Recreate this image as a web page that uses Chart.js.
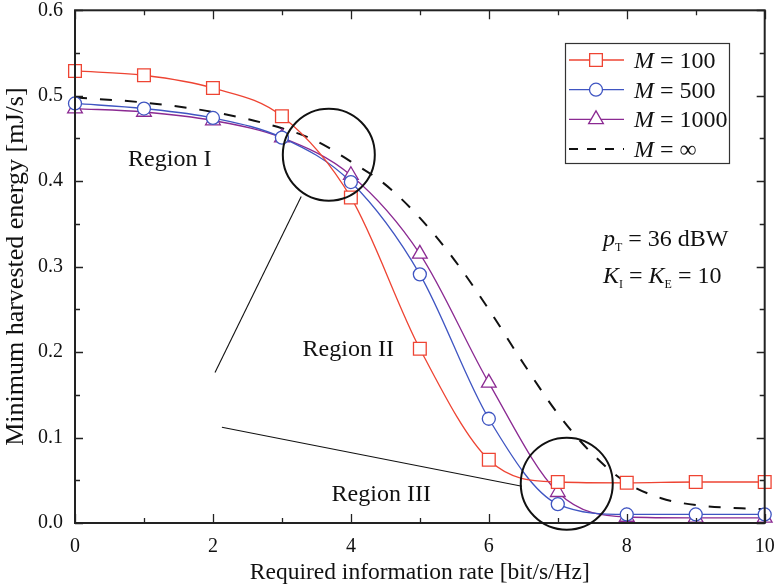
<!DOCTYPE html>
<html><head><meta charset="utf-8">
<script src="https://cdn.jsdelivr.net/npm/chart.js@4/dist/chart.umd.min.js"></script>
<style>html,body{margin:0;padding:0;background:#fff;}canvas{display:block;}</style>
</head><body>
<canvas id="c" width="775" height="587"></canvas>
<script>
// ---- data ----
const rates = [0,1,2,3,4,5,6,7,8,9,10];
const m100  = [0.529,0.524,0.509,0.476,0.381,0.204,0.074,0.048,0.047,0.048,0.048];
const m500  = [0.491,0.485,0.474,0.451,0.399,0.291,0.122,0.022,0.010,0.010,0.010];
const m1000 = [0.485,0.481,0.471,0.451,0.407,0.315,0.164,0.036,0.007,0.006,0.006];
const mInfRates = [0,1,2,3,3.5,4,4.5,5,5.5,6,6.5,7,7.5,8,8.5,9,10];
const mInf  = [0.498,0.492,0.481,0.462,0.447,0.423,0.396,0.357,0.308,0.250,0.187,0.128,0.081,0.047,0.029,0.021,0.016];
const xTicks = [0,2,4,6,8,10];
const yTicks = [0,0.1,0.2,0.3,0.4,0.5,0.6];
const seriesNames = ['100','500','1000','\u221E'];

const SERIF = '"Liberation Serif","Times New Roman",serif';
const RED = '#ee4433', BLUE = '#3f55c2', PURPLE = '#8b2a92';

const pts = (xs, ys) => xs.map((x,i)=>({x:x, y:ys[i]}));

const annotations = {
  circles: [ {x:3.68, y:0.431, r:46}, {x:7.13, y:0.046, r:46} ],
  lines: [ [[2.03,0.176],[3.28,0.382]], [[2.13,0.112],[6.48,0.043]] ],
  texts: [ ['Region I',0.77,0.418], ['Region II',3.3,0.196], ['Region III',3.72,0.026] ]
};

const decor = {
  id:'decor',
  afterDraw(chart){
    const ctx = chart.ctx, xs = chart.scales.x, ys = chart.scales.y, a = chart.chartArea;
    ctx.save();
    // frame
    ctx.strokeStyle = '#222'; ctx.lineWidth = 2;
    ctx.strokeRect(a.left, a.top, a.right-a.left, a.bottom-a.top);
    ctx.lineWidth = 1.3;
    ctx.beginPath();
    for (let v=0; v<=10; v++){
      const px = Math.round(xs.getPixelForValue(v))+0.5;
      const L = v%2===0 ? 9 : 5;
      ctx.moveTo(px, a.bottom); ctx.lineTo(px, a.bottom-L);
      ctx.moveTo(px, a.top); ctx.lineTo(px, a.top+L);
    }
    for (let k=0; k<=12; k++){
      const v = k*0.05;
      const py = Math.round(ys.getPixelForValue(v))+0.5;
      const L = k%2===0 ? 8 : 5;
      ctx.moveTo(a.left, py); ctx.lineTo(a.left+L, py);
      ctx.moveTo(a.right, py); ctx.lineTo(a.right-L, py);
    }
    ctx.stroke();
    // annotation circles and lines
    ctx.strokeStyle = '#111'; ctx.lineWidth = 2;
    annotations.circles.forEach(c=>{
      ctx.beginPath();
      ctx.arc(xs.getPixelForValue(c.x), ys.getPixelForValue(c.y), c.r, 0, Math.PI*2);
      ctx.stroke();
    });
    ctx.lineWidth = 1.1;
    annotations.lines.forEach(l=>{
      ctx.beginPath();
      ctx.moveTo(xs.getPixelForValue(l[0][0]), ys.getPixelForValue(l[0][1]));
      ctx.lineTo(xs.getPixelForValue(l[1][0]), ys.getPixelForValue(l[1][1]));
      ctx.stroke();
    });
    // texts
    ctx.fillStyle = '#111';
    ctx.textBaseline = 'alphabetic';
    ctx.font = '24px ' + SERIF;
    annotations.texts.forEach(t=>{
      ctx.fillText(t[0], xs.getPixelForValue(t[1]), ys.getPixelForValue(t[2]));
    });
    // parameter text
    const drawRuns = (runs, x, y) => {
      runs.forEach(r=>{
        ctx.font = r.f;
        ctx.fillText(r.t, x, y + (r.dy||0));
        x += ctx.measureText(r.t).width;
      });
    };
    const fN = '24px '+SERIF, fI = 'italic 24px '+SERIF, fS = '12px '+SERIF;
    drawRuns([{t:'p',f:fI},{t:'T',f:fS,dy:5},{t:' = 36 dBW',f:fN}], 603, 246);
    drawRuns([{t:'K',f:fI},{t:'I',f:fS,dy:5},{t:' = ',f:fN},{t:'K',f:fI},{t:'E',f:fS,dy:5},{t:' = 10',f:fN}], 603, 283);
    // legend
    const lx = 565, ly = 43, lw = 164, lh = 120;
    ctx.fillStyle = '#fff'; ctx.fillRect(lx, ly, lw, lh);
    ctx.strokeStyle = '#333'; ctx.lineWidth = 1.2; ctx.strokeRect(lx+0.5, ly+0.5, lw, lh);
    chart.data.datasets.forEach((ds, i)=>{
      const y = 60 + i*29.7;
      ctx.save();
      ctx.strokeStyle = ds.borderColor; ctx.lineWidth = ds.borderWidth;
      ctx.setLineDash(i===3 ? [9,9] : []);
      ctx.beginPath(); ctx.moveTo(569, y); ctx.lineTo(624, y); ctx.stroke();
      ctx.setLineDash([]);
      if (ds.pointStyle && ds.pointRadius > 0){
        ctx.fillStyle = '#fff'; ctx.strokeStyle = ds.borderColor; ctx.lineWidth = ds.pointBorderWidth;
        Chart.helpers.drawPoint(ctx, {pointStyle: ds.pointStyle, radius: ds.pointRadius, borderWidth: ds.pointBorderWidth}, 596, y);
      }
      ctx.restore();
      ctx.fillStyle = '#111';
      drawRuns([{t:'M',f:fI},{t:' = '+seriesNames[i],f:fN}], 634, y+8);
    });
    ctx.restore();
  }
};

const mk = (label, data, color, style, radius, extra) => Object.assign({
  label, data, borderColor: color, backgroundColor: '#fff',
  pointStyle: style, pointRadius: radius, pointHoverRadius: radius,
  pointBorderColor: color, pointBackgroundColor: '#fff', pointBorderWidth: 1.3,
  borderWidth: 1.3, cubicInterpolationMode: 'monotone', clip: false, fill: false
}, extra||{});

new Chart(document.getElementById('c'), {
  type: 'line',
  data: { datasets: [
    mk('M = 100', pts(rates, m100), RED, 'rect', 9),
    mk('M = 500', pts(rates, m500), BLUE, 'circle', 6.5),
    mk('M = 1000', pts(rates, m1000), PURPLE, 'triangle', 8.5),
    mk('M = \u221E', pts(mInfRates, mInf), '#111', false, 0, {borderWidth: 2, borderDash: [12,13], pointRadius: 0})
  ]},
  options: {
    responsive: false, animation: false, devicePixelRatio: 1,
    layout: { padding: { top: 10, right: 10, left: 0, bottom: 0 } },
    plugins: { legend: { display: false }, tooltip: { enabled: false } },
    scales: {
      x: { type: 'linear', min: 0, max: 10,
        afterBuildTicks: s => { s.ticks = xTicks.map(v=>({value:v})); },
        afterFit: s => { s.height = 64; s.paddingLeft = 0; s.paddingRight = 0; },
        grid: { display: false, drawTicks: false }, border: { display: false },
        ticks: { font: { family: SERIF, size: 20 }, color: '#111', padding: 12, maxRotation: 0 },
        title: { display: true, text: 'Required information rate [bit/s/Hz]', font: { family: SERIF, size: 23.5 }, color: '#111', padding: { top: 1, bottom: 0 } }
      },
      y: { min: 0, max: 0.6,
        afterBuildTicks: s => { s.ticks = yTicks.map(v=>({value:v})); },
        afterFit: s => { s.width = 75; s.paddingTop = 0; s.paddingBottom = 0; },
        grid: { display: false, drawTicks: false }, border: { display: false },
        ticks: { font: { family: SERIF, size: 20 }, color: '#111', padding: 12, callback: v => Number(v).toFixed(1) },
        title: { display: true, text: 'Minimum harvested energy [mJ/s]', font: { family: SERIF, size: 26 }, color: '#111', padding: { top: 1, bottom: 0 } }
      }
    }
  },
  plugins: [decor]
});
</script>
</body></html>
